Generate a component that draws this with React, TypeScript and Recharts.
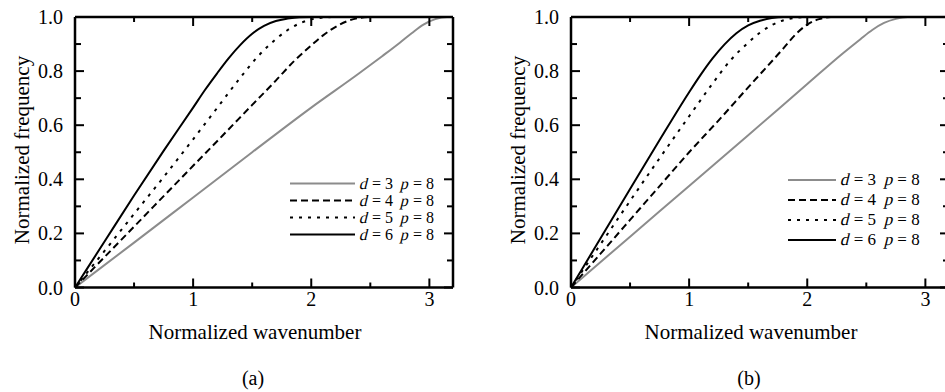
import * as React from "react";
import { LineChart, Line, XAxis, YAxis, Legend } from "recharts";

// tick values
const waveTicks = [0, 0.5, 1, 1.5, 2, 2.5, 3];
const freqTicks = [0, 0.1, 0.2, 0.3, 0.4, 0.5, 0.6, 0.7, 0.8, 0.9, 1.0];

// legend labels
const orders = [3, 4, 5, 6];
const stencil = 8;

// panel (a): [normalized wavenumber, normalized frequency]
const a_d3: [number, number][] = [
  [0, 0], [0.5, 0.166], [1, 0.333], [1.5, 0.5], [2, 0.665], [2.4, 0.79], [2.6, 0.855],
  [2.75, 0.905], [2.85, 0.94], [2.95, 0.972], [3.05, 0.992], [3.15, 1], [3.2, 1],
];
const a_d4: [number, number][] = [
  [0, 0], [0.5, 0.225], [1, 0.45], [1.25, 0.562], [1.5, 0.675], [1.7, 0.765], [1.85, 0.835],
  [2.0, 0.895], [2.1, 0.932], [2.2, 0.962], [2.3, 0.984], [2.4, 0.996], [2.5, 1], [3.2, 1],
];
const a_d5: [number, number][] = [
  [0, 0], [0.25, 0.135], [0.5, 0.272], [0.75, 0.408], [1, 0.548], [1.2, 0.662], [1.4, 0.776],
  [1.55, 0.855], [1.7, 0.918], [1.8, 0.952], [1.9, 0.976], [2.0, 0.991], [2.1, 0.998], [2.2, 1], [3.2, 1],
];
const a_d6: [number, number][] = [
  [0, 0], [0.25, 0.17], [0.5, 0.34], [0.75, 0.505], [1, 0.665], [1.1, 0.73], [1.2, 0.79],
  [1.3, 0.847], [1.4, 0.897], [1.5, 0.938], [1.6, 0.967], [1.7, 0.985], [1.8, 0.994], [1.9, 0.999], [2.0, 1], [3.2, 1],
];

// panel (b)
const b_d3: [number, number][] = [
  [0, 0], [0.5, 0.188], [1, 0.375], [1.5, 0.563], [2, 0.752], [2.3, 0.865], [2.45, 0.918],
  [2.55, 0.952], [2.65, 0.978], [2.75, 0.993], [2.85, 1], [3.2, 1],
];
const b_d4: [number, number][] = [
  [0, 0], [0.25, 0.125], [0.5, 0.25], [0.75, 0.375], [1, 0.5], [1.25, 0.618], [1.5, 0.74],
  [1.65, 0.812], [1.8, 0.885], [1.9, 0.935], [2.0, 0.972], [2.1, 0.992], [2.2, 1], [3.2, 1],
];
const b_d5: [number, number][] = [
  [0, 0], [0.25, 0.16], [0.5, 0.32], [0.75, 0.478], [1, 0.633], [1.2, 0.755], [1.35, 0.84],
  [1.5, 0.905], [1.6, 0.942], [1.7, 0.97], [1.8, 0.988], [1.9, 0.997], [2.0, 1], [3.2, 1],
];
const b_d6: [number, number][] = [
  [0, 0], [0.25, 0.182], [0.5, 0.364], [0.75, 0.545], [1, 0.722], [1.1, 0.788], [1.2, 0.848],
  [1.3, 0.899], [1.4, 0.94], [1.5, 0.969], [1.6, 0.986], [1.7, 0.996], [1.8, 1], [3.2, 1],
];

const FONT = '"Times New Roman", "Liberation Serif", "DejaVu Serif", "Noto Serif", serif';
const GRAY = "#8c8c8c";

const styles = [
  { stroke: GRAY, dash: undefined as string | undefined },
  { stroke: "#000", dash: "7 4" },
  { stroke: "#000", dash: "3 6" },
  { stroke: "#000", dash: undefined as string | undefined },
];

const toPoints = (arr: [number, number][]) => arr.map(([x, y]) => ({ x, y }));

const isMajorX = (v: number) => Math.abs(v - Math.round(v)) < 1e-6;
const isMajorY = (v: number) => Math.abs(v * 5 - Math.round(v * 5)) < 1e-6;

const makeXTick = (side: "top" | "bottom") => (props: any) => {
  const { x, y, payload } = props;
  const v = payload.value as number;
  const major = isMajorX(v);
  const len = major ? 9 : 5;
  const dir = side === "bottom" ? -1 : 1;
  return (
    <g>
      <line x1={x} y1={y} x2={x} y2={y + dir * len} stroke="#000" strokeWidth={2} />
      {side === "bottom" && major && (
        <text x={x} y={y + 18.5} textAnchor="middle" fontFamily={FONT} fontSize={20} fill="#000">
          {v}
        </text>
      )}
    </g>
  );
};

const makeYTick = (side: "left" | "right") => (props: any) => {
  const { x, y, payload } = props;
  const v = payload.value as number;
  const major = isMajorY(v);
  const len = major ? 9 : 6;
  const dir = side === "left" ? 1 : -1;
  return (
    <g>
      <line x1={x} y1={y} x2={x + dir * len} y2={y} stroke="#000" strokeWidth={2} />
      {side === "left" && major && (
        <text x={x - 12} y={y + 7} textAnchor="end" fontFamily={FONT} fontSize={20} fill="#000">
          {v.toFixed(1)}
        </text>
      )}
    </g>
  );
};

// slanted letter that keeps the regular face's line metrics
const Slant: React.FC<{ children: React.ReactNode }> = ({ children }) => (
  <span style={{ display: "inline-block", transform: "skewX(-14deg)" }}>{children}</span>
);

interface PanelProps {
  curves: [number, number][][];
  left: number;
  caption: string;
  legendLeft: number;
  legendTop: number;
  legendRow: number;
  legendLine: number;
  legendFont: number;
}

const Panel: React.FC<PanelProps> = ({ curves, left, caption, legendLeft, legendTop, legendRow, legendLine, legendFont }) => {
  const renderLegend = () => (
    <div style={{ fontFamily: FONT, fontSize: legendFont, color: "#000", lineHeight: `${legendRow}px` }}>
      {orders.map((d, i) => (
        <div key={d} style={{ display: "flex", alignItems: "center", height: legendRow, whiteSpace: "nowrap" }}>
          <svg width={legendLine} height={legendRow} style={{ display: "block" }}>
            <line x1={0} y1={legendRow / 2} x2={legendLine} y2={legendRow / 2}
              stroke={styles[i].stroke} strokeWidth={2} strokeDasharray={styles[i].dash} />
          </svg>
          <span style={{ marginLeft: 5 }}>
            <Slant>d</Slant>{` = ${d}\u00a0\u00a0`}<Slant>p</Slant>{` = ${stencil}`}
          </span>
        </div>
      ))}
    </div>
  );

  const axisLine = { stroke: "#000", strokeWidth: 2.5 };

  return (
    <div style={{ position: "absolute", left, top: 0, width: 470, height: 392 }}>
      <LineChart width={470} height={392} margin={{ top: 16, left: 74, right: 16, bottom: 103.5 }}>
        <XAxis xAxisId="bottom" dataKey="x" type="number" domain={[0, 3.2]} ticks={waveTicks}
          allowDataOverflow height={1} tickSize={0} tickMargin={0} tickLine={false}
          axisLine={axisLine} tick={makeXTick("bottom")} interval={0} />
        <XAxis xAxisId="top" orientation="top" dataKey="x" type="number" domain={[0, 3.2]} ticks={waveTicks}
          allowDataOverflow height={1} tickSize={0} tickMargin={0} tickLine={false}
          axisLine={axisLine} tick={makeXTick("top")} interval={0} />
        <YAxis yAxisId="left" type="number" domain={[0, 1]} ticks={freqTicks} allowDataOverflow
          width={1} tickSize={0} tickMargin={0} tickLine={false}
          axisLine={axisLine} tick={makeYTick("left")} interval={0} />
        <YAxis yAxisId="right" orientation="right" type="number" domain={[0, 1]} ticks={freqTicks} allowDataOverflow
          width={1} tickSize={0} tickMargin={0} tickLine={false}
          axisLine={axisLine} tick={makeYTick("right")} interval={0} />
        {curves.map((c, i) => (
          <Line key={i} xAxisId="bottom" yAxisId="left" data={toPoints(c)} dataKey="y" type="monotone"
            stroke={styles[i].stroke} strokeWidth={2} strokeDasharray={styles[i].dash}
            dot={false} activeDot={false} isAnimationActive={false} name={`d = ${orders[i]}`} />
        ))}
        <Legend layout="horizontal" verticalAlign="middle" align="center" content={renderLegend}
          wrapperStyle={{ left: legendLeft, top: legendTop, width: "auto", height: "auto" }} />
      </LineChart>
      <div style={{ position: "absolute", left: 22, top: 150, transform: "translate(-50%, -50%) rotate(-90deg)",
        fontFamily: FONT, fontSize: 21, whiteSpace: "nowrap" }}>
        Normalized frequency
      </div>
      <div style={{ position: "absolute", left: 255, top: 332, transform: "translate(-50%, -50%)",
        fontFamily: FONT, fontSize: 21, whiteSpace: "nowrap" }}>
        Normalized wavenumber
      </div>
      <div style={{ position: "absolute", left: 253, top: 378, transform: "translate(-50%, -50%)",
        fontFamily: FONT, fontSize: 20, whiteSpace: "nowrap" }}>
        {caption}
      </div>
    </div>
  );
};

export default function App() {
  return (
    <div style={{ position: "absolute", left: 0, top: 0, width: 945, height: 392, overflow: "hidden", background: "#fff" }}>
      <Panel curves={[a_d3, a_d4, a_d5, a_d6]} left={0} caption="(a)"
        legendLeft={290} legendTop={174.5} legendRow={17} legendLine={65} legendFont={16} />
      <Panel curves={[b_d3, b_d4, b_d5, b_d6]} left={496} caption="(b)"
        legendLeft={292} legendTop={170} legendRow={20} legendLine={48} legendFont={17} />
    </div>
  );
}
